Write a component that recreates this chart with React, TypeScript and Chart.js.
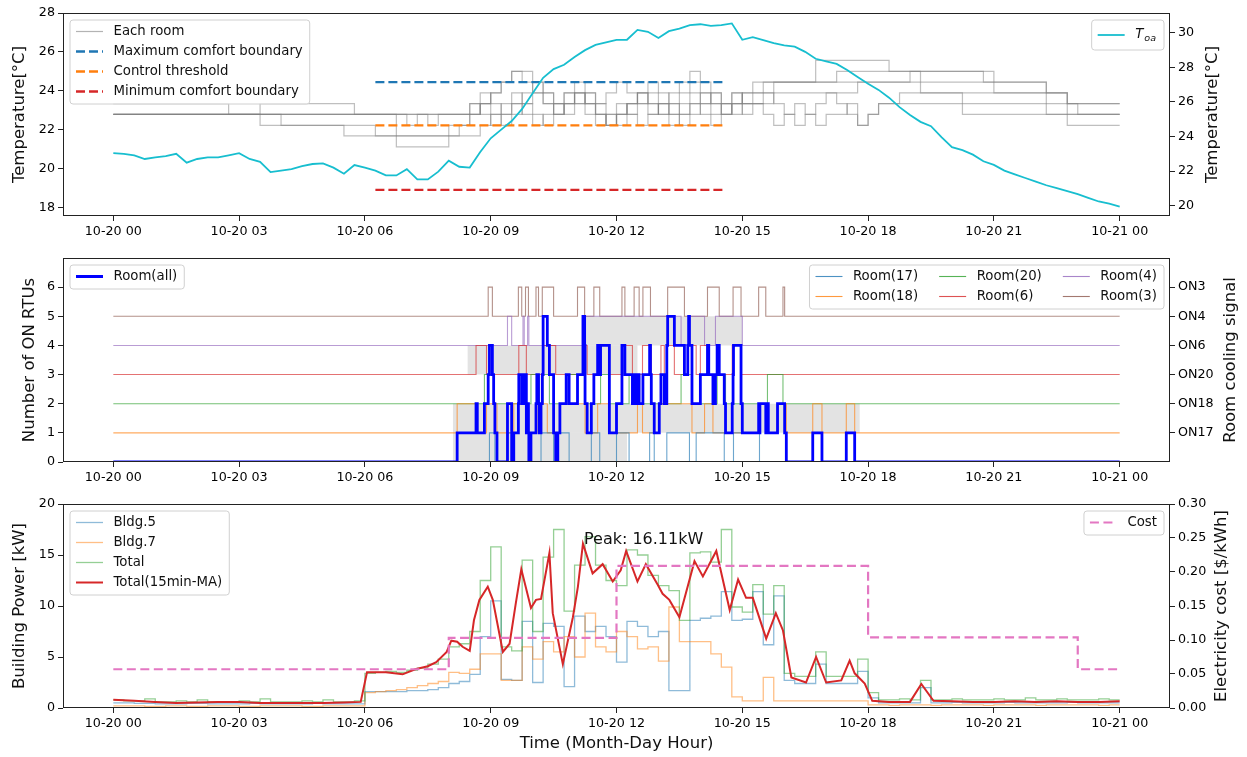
import React, { useEffect, useRef } from "react";
import { Chart, registerables } from "chart.js";

Chart.register(...registerables);

const FONT = '"DejaVu Sans", "Liberation Sans", sans-serif';
Chart.defaults.font.family = FONT;

// ---------------- shared time axis ----------------
const xTickHours = [0, 3, 6, 9, 12, 15, 18, 21, 24];
const xTickLabels = ["10-20 00", "10-20 03", "10-20 06", "10-20 09", "10-20 12", "10-20 15", "10-20 18", "10-20 21", "10-21 00"];
const xMin = -1.2;
const xMax = 25.2;
const sampleStepHours = 0.25;

// ---------------- panel 1: temperatures ----------------
const tempTicks = [18, 20, 22, 24, 26, 28];
const toaTicks = [20, 22, 24, 26, 28, 30];

const toa = [
  23.04, 23.0, 22.91, 22.7, 22.79, 22.87, 23.0, 22.49, 22.7, 22.79,
  22.79, 22.91, 23.04, 22.7, 22.53, 21.94, 22.03, 22.11, 22.28, 22.41,
  22.45, 22.2, 21.85, 22.35, 22.2, 22.03, 21.75, 21.75, 22.11, 21.52,
  21.52, 21.97, 22.6, 22.25, 22.2, 23.1, 23.9, 24.4, 24.9, 25.6,
  26.5, 27.4, 27.9, 28.15, 28.6, 29.0, 29.3, 29.45, 29.6, 29.6,
  30.17, 30.06, 29.7, 30.1, 30.25, 30.45, 30.5, 30.4, 30.45, 30.55,
  29.6, 29.75, 29.58, 29.4, 29.28, 29.2, 28.9, 28.5, 28.35, 28.2,
  27.85, 27.45, 27.05, 26.7, 26.25, 25.7, 25.25, 24.85, 24.6, 23.97,
  23.38, 23.21, 22.95, 22.57, 22.36, 22.03, 21.81, 21.6, 21.39, 21.18,
  21.01, 20.84, 20.66, 20.45, 20.24, 20.11, 19.94,
];

const roomTempA = [
  22.78, 22.78, 22.78, 22.78, 22.78, 22.78, 22.78, 22.78, 22.78, 22.78, 22.78,
  22.78, 22.78, 22.78, 22.78, 22.78, 22.78, 22.78, 22.78, 22.78, 22.78, 22.78,
  22.78, 22.78, 22.78, 22.78, 22.78, 22.78, 22.78, 22.78, 22.78, 22.78, 22.78,
  22.78, 23.33, 23.89, 23.33, 22.78, 23.33, 23.89, 24.44, 23.89, 23.33, 22.78, 23.33, 23.89, 23.33,
  22.78, 22.22, 22.78, 23.33, 23.89, 23.33, 22.78, 23.33, 23.89, 23.33, 22.78, 23.33, 23.89, 23.33,
  23.33, 23.33, 23.89, 23.89, 23.89, 23.89, 23.89, 23.89, 23.89, 23.89,
  24.44, 24.44, 24.44, 24.44, 24.44, 24.44,
  23.89, 23.89, 23.89, 23.89, 23.89, 23.89, 23.89, 23.89, 23.89, 23.89, 23.89, 23.89, 23.89, 23.89,
  23.33, 23.33, 23.33, 23.33, 23.33, 23.33,
];
const roomTempB = [
  23.33, 23.33, 23.33, 23.33, 23.33, 23.33, 23.33, 23.33, 23.33, 23.33, 23.33,
  22.78, 22.78, 22.78,
  23.33, 23.33, 23.33, 23.33, 23.33, 23.33, 23.33, 23.33, 23.33,
  22.78, 22.78, 22.78, 22.78, 22.78, 22.78, 22.78, 22.78, 22.78, 22.78, 22.78, 22.78,
  23.33, 23.89, 24.44, 25.0, 25.0, 24.44, 23.89, 23.33, 23.89, 24.44, 23.89, 23.33,
  23.89, 24.44, 23.89, 23.33, 22.78, 23.33, 23.89, 24.44, 25.0, 24.44, 23.89, 23.33,
  23.89, 23.33,
  23.89, 24.44, 24.44, 24.44, 24.44, 24.44, 24.44, 24.44,
  25.0, 25.0, 25.0, 25.0, 25.0, 25.0, 25.0, 25.0, 25.0, 25.0, 25.0, 25.0, 25.0, 25.0, 25.0,
  24.44, 24.44, 24.44, 24.44, 24.44, 23.89, 23.89,
  23.33, 23.33, 23.33, 23.33, 23.33, 23.33,
];
const roomTempC = [
  22.78, 22.78, 22.78, 22.78, 22.78, 22.78, 22.78, 22.78, 22.78, 22.78, 22.78, 22.78, 22.78, 22.78,
  22.22, 22.22, 22.22, 22.22, 22.22, 22.22, 22.22, 22.22, 22.22, 22.22, 22.22,
  21.67, 21.67, 21.67, 21.67, 21.67, 21.67, 21.67, 21.67, 21.67, 21.67,
  22.22, 22.78, 23.33, 23.89, 23.33, 22.78, 22.22, 22.78, 23.33, 23.89, 23.33, 22.78, 22.22,
  22.78, 23.33, 23.89, 23.33, 22.78, 22.22, 22.78, 23.33, 22.78, 22.22, 22.78, 23.33, 22.78,
  23.33, 23.89, 23.33, 22.78, 22.22, 22.78, 23.33, 23.89, 23.33, 22.78, 22.22, 22.78, 23.33, 23.33, 23.89, 23.89,
  23.89, 23.89, 23.89, 23.89,
  23.33, 23.33, 23.33, 23.33, 23.33, 23.33, 23.33, 23.33,
  22.78, 22.78, 22.78, 22.78, 22.78, 22.78, 22.78, 22.78,
];
const roomTempD = [
  22.78, 22.78, 22.78, 22.78, 22.78, 22.78, 22.78, 22.78, 22.78, 22.78, 22.78, 22.78, 22.78, 22.78, 22.78, 22.78,
  22.22, 22.22, 22.22, 22.22, 22.22, 22.22,
  21.67, 21.67, 21.67, 21.67, 21.67, 21.67, 21.67, 21.67, 21.67, 21.67, 21.67,
  22.22, 22.78, 23.33, 22.78, 22.22, 22.78, 23.33, 23.89, 23.33, 22.78, 23.33, 23.89, 23.33, 22.78,
  22.22, 22.78, 23.33, 23.89, 24.44, 23.89, 23.33, 22.78, 23.33, 23.89, 23.33, 22.78, 23.33, 23.89,
  24.44, 24.44, 24.44, 24.44, 24.44, 24.44,
  25.56, 25.56, 25.56, 25.56, 25.56, 25.56, 25.56,
  25.0, 25.0, 25.0,
  24.44, 24.44, 24.44, 24.44, 24.44, 24.44, 24.44,
  23.89, 23.89, 23.89, 23.89, 23.89, 23.89, 23.89,
  23.33,
  22.78, 22.78, 22.78, 22.78, 22.78,
];
const roomTempE = [
  22.78, 22.78, 22.78, 22.78, 22.78, 22.78, 22.78, 22.78, 22.78, 22.78, 22.78, 22.78, 22.78, 22.78,
  22.78, 22.78, 22.78, 22.78, 22.78, 22.78, 22.78, 22.78, 22.78, 22.78, 22.78, 22.78, 22.78,
  21.11, 21.11, 21.11, 21.11, 21.11,
  22.22, 22.22,
  22.78, 23.33, 23.89, 24.44, 25.0, 24.44, 23.89, 23.33, 22.78, 23.33, 23.89, 23.33, 22.78, 22.22,
  22.78, 23.33, 23.89, 23.33, 22.78, 23.33, 23.89, 24.44, 23.89, 23.33, 22.78, 23.33, 23.89,
  23.89, 23.89,
  24.44, 24.44, 24.44, 24.44, 24.44, 24.44, 24.44, 24.44, 24.44, 24.44, 24.44, 24.44, 24.44,
  25.0, 25.0, 25.0, 25.0, 25.0, 25.0, 25.0,
  24.44, 24.44, 24.44, 24.44, 24.44, 24.44,
  23.33, 23.33,
  22.22, 22.22, 22.22, 22.22, 22.22, 22.22,
];
const roomTempF = [
  22.78, 22.78, 22.78, 22.78, 22.78, 22.78, 22.78, 22.78, 22.78, 22.78, 22.78, 22.78, 22.78, 22.78,
  22.78, 22.78, 22.78, 22.78, 22.78, 22.78, 22.78, 22.78, 22.78, 22.78, 22.78, 22.78, 22.78, 22.78,
  22.22, 22.78, 22.22, 22.78, 22.78, 22.78,
  23.33, 22.78, 22.22, 22.78, 23.33, 22.78, 22.22, 22.78, 23.33, 23.89, 23.33, 22.78, 22.22, 22.78,
  23.33, 22.78, 22.22, 22.78, 23.33, 22.78, 22.22, 22.78, 23.33, 23.89, 23.33, 22.78, 23.33,
  23.33, 22.78, 22.22, 22.78, 23.33, 22.78, 22.22, 22.78, 22.78, 23.33, 22.22, 22.78, 23.33,
  23.33, 23.33, 23.33, 23.33, 23.33, 23.33, 23.33,
  22.78, 22.78, 22.78, 22.78, 22.78, 22.78, 22.78, 22.78, 22.78, 22.78, 22.78, 22.78, 22.78, 22.78, 22.78, 22.78,
];
const roomTemps = [roomTempA, roomTempB, roomTempC, roomTempD, roomTempE, roomTempF];

const boundaryHours = [6.25, 14.58];
const comfortMax = 24.44;
const controlThreshold = 22.22;
const comfortMin = 18.89;

// ---------------- panel 2: cooling signals ----------------
const rtuTicks = [0, 1, 2, 3, 4, 5, 6];
const signalTicks = [1, 2, 3, 4, 5, 6];
const signalLabels = ["ON17", "ON18", "ON20", "ON6", "ON4", "ON3"];
const roomNames = ["Room(17)", "Room(18)", "Room(20)", "Room(6)", "Room(4)", "Room(3)"];
const roomColors = ["#1f77b4", "#ff7f0e", "#2ca02c", "#d62728", "#9467bd", "#8c564b"];
const roomBaselines = [0, 1, 2, 3, 4, 5];

const room17On = [[8.97, 9.1], [9.4, 9.5], [10.2, 10.5], [10.6, 10.87], [11.4, 11.6], [12.0, 12.3], [12.79, 12.9], [13.2, 13.74], [13.9, 14.57], [14.79, 15.41]];
const room18On = [[8.2, 8.68], [8.9, 9.15], [9.55, 9.85], [10.1, 10.35], [10.65, 11.25], [11.55, 11.83], [12.5, 12.62], [13.02, 13.8], [14.1, 14.3], [15.42, 15.62], [15.84, 16.05], [16.68, 16.9], [17.48, 17.68]];
const room20On = [[8.85, 9.07], [9.96, 10.16], [10.25, 10.4], [10.8, 11.25], [11.62, 11.83], [12.3, 12.45], [13.54, 13.8], [14.4, 14.6], [15.6, 15.97]];
const room6On = [[8.65, 8.9], [9.67, 9.85], [10.25, 10.55], [11.2, 11.3], [11.6, 11.83], [12.13, 12.38], [12.62, 12.83], [13.06, 13.14], [13.2, 13.38], [13.7, 13.9], [14.0, 14.2], [14.76, 14.97]];
const room4On = [[9.4, 9.5], [9.77, 9.8], [9.88, 9.91], [11.2, 13.54], [13.72, 14.1], [14.36, 15.0]];
const room3On = [[8.94, 9.04], [9.66, 9.74], [9.83, 9.9], [10.08, 10.14], [10.23, 10.5], [11.07, 11.24], [11.46, 11.6], [12.13, 12.2], [12.42, 12.54], [12.63, 12.81], [13.22, 13.62], [14.17, 14.45], [14.78, 14.97], [15.39, 15.56], [15.97, 16.01]];
const roomOnLists = [room17On, room18On, room20On, room6On, room4On, room3On];

const room17Demand = [[8.1, 12.25]];
const room18Demand = [[8.1, 17.8]];
const room20Demand: number[][] = [];
const room6Demand = [[8.45, 12.5]];
const room4Demand = [[11.2, 15.0]];
const room3Demand: number[][] = [];
const roomDemandLists = [room17Demand, room18Demand, room20Demand, room6Demand, room4Demand, room3Demand];

// ---------------- panel 3: power & cost ----------------
const powerTicks = [0, 5, 10, 15, 20];
const costTicks = [0, 0.05, 0.1, 0.15, 0.2, 0.25, 0.3];

const bldg5 = [
  0.5, 0.5, 0.45, 0.45, 0.4, 0.4, 0.4, 0.45, 0.45, 0.4, 0.4, 0.4, 0.4, 0.45, 0.4, 0.4, 0.4, 0.4, 0.4, 0.45, 0.4, 0.4, 0.4, 0.4,
  1.6, 1.6, 1.6, 1.6, 1.7, 1.7, 1.8, 2.0,
  2.4, 2.6, 3.3, 7.0, 10.5, 2.8, 2.7, 8.5,
  2.5, 8.3, 8.0, 2.1, 9.0, 7.5, 8.0, 7.0,
  4.5, 8.5, 8.0, 7.0, 7.5, 1.7, 1.7, 8.6,
  8.8, 9.0, 11.4, 8.6, 8.7, 11.4, 6.2, 11.0,
  2.7, 2.4, 2.4, 4.3, 2.4, 2.4, 2.4, 3.6,
  1.0, 0.5, 0.5, 0.5, 0.5, 2.0, 0.5, 0.5, 0.55, 0.5, 0.5, 0.5, 0.5, 0.55, 0.5, 0.5, 0.5, 0.5, 0.5, 0.55, 0.5, 0.5, 0.5, 0.5, 0.5,
];
const bldg7 = [
  0.2, 0.2, 0.2, 0.15, 0.15, 0.2, 0.2, 0.15, 0.15, 0.2, 0.2, 0.2, 0.15, 0.15, 0.2, 0.2, 0.2, 0.2, 0.15, 0.15, 0.2, 0.2, 0.2, 0.2,
  1.5, 1.6, 1.7, 1.8, 2.0, 2.2, 2.4, 2.6,
  3.5, 3.4, 3.8, 5.3, 5.3, 2.7, 2.7, 6.0,
  4.8, 6.5, 5.5, 7.0, 5.0, 9.3, 6.0, 5.5,
  7.5, 7.0, 5.8, 6.0, 4.6, 9.9, 6.5, 6.5,
  6.5, 5.3, 4.0, 1.1, 0.7, 0.7, 3.0, 0.7,
  0.7, 0.7, 0.7, 0.7, 0.7, 0.7, 0.7, 0.7,
  0.3, 0.3, 0.25, 0.3, 0.3, 0.3, 0.25, 0.3, 0.3, 0.3, 0.3, 0.25, 0.3, 0.3, 0.3, 0.3, 0.25, 0.3, 0.3, 0.3, 0.3, 0.3, 0.25, 0.3, 0.3,
];
const totalPower = [
  0.8, 0.7, 0.7, 0.9, 0.6, 0.6, 0.7, 0.6, 0.8, 0.6, 0.6, 0.6, 0.7, 0.6, 0.9, 0.6, 0.6, 0.6, 0.7, 0.6, 0.8, 0.6, 0.6, 0.7,
  3.4, 3.5, 3.6, 3.5, 3.7, 3.9, 4.3, 4.8,
  6.0, 6.3, 7.5, 12.5, 15.8, 6.0, 5.6, 14.5,
  7.5, 14.8, 17.5, 9.5, 14.0, 16.8, 14.0, 12.5,
  12.0, 15.5, 15.0, 13.0, 12.0, 11.5, 8.6, 15.2,
  15.3, 14.3, 17.5, 9.9, 9.4, 12.1, 9.2, 12.0,
  3.4, 3.1, 3.1, 5.5, 3.1, 3.1, 3.1, 4.8,
  1.5, 0.8, 0.8, 0.9, 0.8, 2.7, 0.8, 0.8, 0.9, 0.8, 0.8, 0.8, 0.9, 0.8, 0.8, 1.0, 0.8, 0.8, 0.9, 0.8, 0.8, 0.8, 0.9, 0.8, 0.8,
];

const maHours = [
  0, 0.5, 1, 1.5, 2, 2.5, 3, 3.5, 4, 4.5, 5, 5.5, 5.9, 6.05, 6.5, 6.9, 7.2, 7.5, 7.7, 7.95,
  8.06, 8.2, 8.33, 8.5, 8.6, 8.73, 8.93, 9.05, 9.29, 9.45, 9.6, 9.73, 9.96, 10.08, 10.2, 10.4, 10.48, 10.72, 10.96, 11.08,
  11.2, 11.43, 11.67, 11.91, 12.1, 12.23, 12.5, 12.7, 12.98, 13.1, 13.26, 13.5, 13.86, 14.06, 14.38, 14.7, 14.9, 15.09, 15.25, 15.57,
  15.8, 15.97, 16.17, 16.52, 16.76, 17.0, 17.36, 17.56, 17.68, 17.92, 18.1, 18.5, 19.0, 19.27, 19.56, 20, 20.5, 21, 21.5, 22,
  22.5, 23, 23.5, 24,
];
const maValues = [
  0.8, 0.7, 0.6, 0.5, 0.55, 0.6, 0.6, 0.5, 0.5, 0.5, 0.5, 0.55, 0.6, 3.5, 3.5, 3.3, 3.8, 4.1, 4.5, 5.5,
  6.6, 6.5, 6.0, 5.6, 8.6, 10.6, 11.9, 10.6, 5.5, 6.3, 10.3, 13.6, 9.8, 10.6, 10.7, 15.2, 9.3, 4.3, 8.9, 11.9,
  16.11, 13.2, 14.1, 12.4, 13.5, 15.4, 12.4, 14.1, 12.1, 11.2, 10.6, 8.9, 14.4, 12.9, 15.4, 9.6, 12.6, 10.8, 10.8, 6.8,
  9.3, 7.6, 3.0, 2.5, 5.0, 2.5, 2.7, 4.65, 3.4, 2.4, 0.7, 0.6, 0.6, 2.35, 0.7, 0.65, 0.6, 0.6, 0.65, 0.6,
  0.65, 0.6, 0.6, 0.65,
];
const peakHour = 11.2;
const peakKw = 16.11;

const costHours = [0, 8, 12, 18, 23, 24];
const costValues = [0.057, 0.103, 0.209, 0.104, 0.057, 0.057];

// ---------------- helpers ----------------
const sampleHours = toa.map((_, i) => i * sampleStepHours);
const toPts = (xs: number[], ys: number[]) => ys.map((y, i) => ({ x: xs[i], y }));

function stepFromIntervals(base: number, intervals: number[][]) {
  const pts = [{ x: 0, y: base }];
  for (const [s, e] of intervals) {
    pts.push({ x: s, y: base + 1 });
    pts.push({ x: e, y: base });
  }
  pts.push({ x: 24, y: base });
  return pts;
}

function roomAllPoints() {
  const times = new Set<number>([0, 24]);
  roomOnLists.forEach((l) => l.forEach(([s, e]) => { times.add(s); times.add(e); }));
  const sorted = Array.from(times).sort((a, b) => a - b);
  return sorted.map((t) => ({
    x: t,
    y: roomOnLists.reduce((n, l) => n + (l.some(([s, e]) => t >= s && t < e) ? 1 : 0), 0),
  }));
}

function rgba(hex: string, a: number) {
  const n = parseInt(hex.slice(1), 16);
  return `rgba(${(n >> 16) & 255},${(n >> 8) & 255},${n & 255},${a})`;
}

const TICK_FONT = { family: FONT, size: 12.7 };

function xScale(height: number) {
  return {
    type: "linear",
    min: xMin,
    max: xMax,
    afterBuildTicks: (s: any) => { s.ticks = xTickHours.map((v) => ({ value: v })); },
    afterFit: (s: any) => { s.height = height; },
    ticks: {
      autoSkip: false, maxRotation: 0, minRotation: 0, padding: 3, color: "#000", font: TICK_FONT,
      callback: (_v: any, i: number) => xTickLabels[i],
    },
    grid: { drawOnChartArea: false, drawTicks: true, tickLength: 5, color: "#222", lineWidth: 1 },
    border: { display: false },
  };
}

function yScale(position: string, min: number, max: number, ticks: number[], width: number, fmt: (v: number, i: number) => string) {
  return {
    type: "linear",
    position,
    min,
    max,
    afterBuildTicks: (s: any) => { s.ticks = ticks.map((v) => ({ value: v })); },
    afterFit: (s: any) => { s.width = width; },
    ticks: { autoSkip: false, padding: 3, color: "#000", font: TICK_FONT, callback: (v: any, i: number) => fmt(v, i) },
    grid: { drawOnChartArea: false, drawTicks: true, tickLength: 5, color: "#222", lineWidth: 1 },
    border: { display: false },
  };
}

type LegendItem = { label: string; color: string; width: number; dash?: number[]; special?: string };
type LegendBox = { corner: "left" | "right"; items: LegendItem[]; columns?: number; height?: number; firstRow?: number };

function itemTextWidth(ctx: any, it: LegendItem, fs: number) {
  if (it.special === "toa") {
    ctx.save();
    ctx.font = `italic ${fs}px ${FONT}`;
    const w1 = ctx.measureText("T").width;
    ctx.font = `italic ${fs * 0.72}px ${FONT}`;
    const w2 = ctx.measureText("oa").width;
    ctx.restore();
    return w1 + w2 + 2;
  }
  return ctx.measureText(it.label).width;
}

function drawLegend(ctx: any, area: any, box: LegendBox) {
  const fs = 13.3;
  ctx.save();
  ctx.font = `${fs}px ${FONT}`;
  const cols = box.columns || 1;
  const rows = Math.ceil(box.items.length / cols);
  const handle = 27, hpad = 10.5, padL = 6, padR = 7, colGap = 21, rowH = 20;
  const colW: number[] = [];
  for (let c = 0; c < cols; c++) {
    let mw = 0;
    for (let r = 0; r < rows; r++) {
      const it = box.items[c * rows + r];
      if (it) mw = Math.max(mw, itemTextWidth(ctx, it, fs));
    }
    colW.push(handle + hpad + mw);
  }
  const w = padL + colW.reduce((a, b) => a + b, 0) + colGap * (cols - 1) + padR;
  const h = box.height ?? 11.5 + rowH * (rows - 1) + 12.5;
  const x0 = box.corner === "left" ? area.left + 7 : area.right - 6 - w;
  const y0 = area.top + 7;
  const rad = 3;
  ctx.beginPath();
  ctx.moveTo(x0 + rad, y0);
  ctx.lineTo(x0 + w - rad, y0);
  ctx.quadraticCurveTo(x0 + w, y0, x0 + w, y0 + rad);
  ctx.lineTo(x0 + w, y0 + h - rad);
  ctx.quadraticCurveTo(x0 + w, y0 + h, x0 + w - rad, y0 + h);
  ctx.lineTo(x0 + rad, y0 + h);
  ctx.quadraticCurveTo(x0, y0 + h, x0, y0 + h - rad);
  ctx.lineTo(x0, y0 + rad);
  ctx.quadraticCurveTo(x0, y0, x0 + rad, y0);
  ctx.closePath();
  ctx.fillStyle = "rgba(255,255,255,0.8)";
  ctx.fill();
  ctx.strokeStyle = "#d0d0d0";
  ctx.lineWidth = 1;
  ctx.setLineDash([]);
  ctx.stroke();

  let cx = x0 + padL;
  for (let c = 0; c < cols; c++) {
    for (let r = 0; r < rows; r++) {
      const it = box.items[c * rows + r];
      if (!it) continue;
      const yc = y0 + (box.firstRow ?? 11.5) + rowH * r;
      ctx.beginPath();
      ctx.setLineDash(it.dash || []);
      ctx.strokeStyle = it.color;
      ctx.lineWidth = it.width;
      ctx.moveTo(cx, yc);
      ctx.lineTo(cx + handle, yc);
      ctx.stroke();
      ctx.setLineDash([]);
      ctx.fillStyle = "#111";
      ctx.textBaseline = "middle";
      ctx.textAlign = "left";
      const tx = cx + handle + hpad;
      if (it.special === "toa") {
        ctx.font = `italic ${fs}px ${FONT}`;
        ctx.fillText("T", tx, yc);
        const tw = ctx.measureText("T").width;
        ctx.font = `italic ${fs * 0.72}px ${FONT}`;
        ctx.fillText("oa", tx + tw + 1, yc + 4);
        ctx.font = `${fs}px ${FONT}`;
      } else {
        ctx.fillText(it.label, tx, yc);
      }
    }
    cx += colW[c] + colGap;
  }
  ctx.restore();
}

type DecorCfg = {
  leftTitle: string; leftTitleX: number; rightTitle: string; rightTitleX: number;
  bottomTitle?: { text: string; y: number };
  legends: LegendBox[];
  peak?: boolean;
};

function makeDecor(cfg: DecorCfg) {
  return {
    id: "decor",
    afterDraw(chart: any) {
      const { ctx, chartArea: a } = chart;
      ctx.save();
      ctx.strokeStyle = "#222";
      ctx.lineWidth = 1;
      ctx.setLineDash([]);
      const l = Math.round(a.left) + 0.5, t = Math.round(a.top) + 0.5;
      const r = Math.round(a.right) - 0.5, b = Math.round(a.bottom) - 0.5;
      ctx.strokeRect(l, t, r - l, b - t);

      if (cfg.peak) {
        const px = chart.scales.x.getPixelForValue(peakHour);
        const py = chart.scales.y.getPixelForValue(peakKw);
        ctx.font = `16px ${FONT}`;
        ctx.fillStyle = "#111";
        ctx.textAlign = "left";
        ctx.textBaseline = "alphabetic";
        ctx.fillText(`Peak: ${peakKw.toFixed(2)}kW`, px + 1, py);
      }

      for (const lg of cfg.legends) drawLegend(ctx, a, lg);

      ctx.font = `16.5px ${FONT}`;
      ctx.fillStyle = "#111";
      ctx.textAlign = "center";
      ctx.textBaseline = "middle";
      const cy = (a.top + a.bottom) / 2;
      const vt = (text: string, x: number) => {
        ctx.save();
        ctx.translate(x, cy);
        ctx.rotate(-Math.PI / 2);
        ctx.fillText(text, 0, 0);
        ctx.restore();
      };
      vt(cfg.leftTitle, cfg.leftTitleX);
      vt(cfg.rightTitle, cfg.rightTitleX);
      if (cfg.bottomTitle) {
        ctx.fillText(cfg.bottomTitle.text, (a.left + a.right) / 2, cfg.bottomTitle.y);
      }
      ctx.restore();
    },
  };
}

const LEFT_W = 63;
const RIGHT_W = 77;

function baseOptions(padTop: number, scales: any) {
  return {
    responsive: false,
    animation: false,
    devicePixelRatio: 1,
    layout: { padding: { top: padTop, left: 0, right: 0, bottom: 0 } },
    plugins: { legend: { display: false }, tooltip: { enabled: false } },
    elements: { point: { radius: 0 }, line: { tension: 0 } },
    scales,
  };
}

// ---------------- panel configs ----------------
function tempConfig() {
  const grayRoom = "rgba(128,128,128,0.5)";
  const datasets: any[] = [
    { data: toPts(sampleHours, toa), yAxisID: "y2", borderColor: "#17becf", borderWidth: 1.8, pointRadius: 0, order: 0 },
    { data: toPts(boundaryHours, [comfortMax, comfortMax]), yAxisID: "y", borderColor: "#1f77b4", borderWidth: 2.3, borderDash: [9, 4], pointRadius: 0, order: 1 },
    { data: toPts(boundaryHours, [controlThreshold, controlThreshold]), yAxisID: "y", borderColor: "#ff7f0e", borderWidth: 2.3, borderDash: [9, 4], pointRadius: 0, order: 1 },
    { data: toPts(boundaryHours, [comfortMin, comfortMin]), yAxisID: "y", borderColor: "#d62728", borderWidth: 2.3, borderDash: [9, 4], pointRadius: 0, order: 1 },
    ...roomTemps.map((rt) => ({ data: toPts(sampleHours, rt), yAxisID: "y", borderColor: grayRoom, borderWidth: 1.2, pointRadius: 0, stepped: true, order: 2 })),
  ];
  return {
    type: "line",
    data: { datasets },
    options: baseOptions(13, {
      x: xScale(29),
      y: yScale("left", 17.55, 28, tempTicks, LEFT_W, (v) => String(v)),
      y2: yScale("right", 19.4, 31.15, toaTicks, RIGHT_W, (v) => String(v)),
    }),
    plugins: [makeDecor({
      leftTitle: "Temperature[°C]", leftTitleX: 20, rightTitle: "Temperature[°C]", rightTitleX: 1213,
      legends: [
        { corner: "left", items: [
          { label: "Each room", color: "rgba(128,128,128,0.6)", width: 1.2 },
          { label: "Maximum comfort boundary", color: "#1f77b4", width: 2.3, dash: [9, 4] },
          { label: "Control threshold", color: "#ff7f0e", width: 2.3, dash: [9, 4] },
          { label: "Minimum comfort boundary", color: "#d62728", width: 2.3, dash: [9, 4] },
        ] },
        { corner: "right", height: 30, firstRow: 15, items: [{ label: "Toa", color: "#17becf", width: 1.8, special: "toa" }] },
      ],
    })],
  };
}

function signalConfig() {
  const fills = roomBaselines.map((b, k) => ({
    data: stepFromIntervals(b, roomDemandLists[k]), yAxisID: "y", borderWidth: 0, borderColor: "rgba(0,0,0,0)",
    backgroundColor: "rgba(128,128,128,0.22)", fill: { value: b }, stepped: true, pointRadius: 0, order: 3,
  }));
  const lines = roomBaselines.map((b, k) => ({
    data: stepFromIntervals(b, roomOnLists[k]), yAxisID: "y", borderColor: rgba(roomColors[k], 0.65), borderWidth: 1.1,
    stepped: true, pointRadius: 0, fill: false, order: 2,
  }));
  const all = { data: roomAllPoints(), yAxisID: "y", borderColor: "#0000ff", borderWidth: 2.8, stepped: true, pointRadius: 0, fill: false, order: 0 };
  return {
    type: "line",
    data: { datasets: [all, ...lines, ...fills] },
    options: baseOptions(13, {
      x: xScale(28),
      y: yScale("left", 0, 7, rtuTicks, LEFT_W, (v) => String(v)),
      y2: yScale("right", 0, 7, signalTicks, RIGHT_W, (_v, i) => signalLabels[i]),
    }),
    plugins: [makeDecor({
      leftTitle: "Number of ON RTUs", leftTitleX: 30, rightTitle: "Room cooling signal", rightTitleX: 1231,
      legends: [
        { corner: "left", items: [{ label: "Room(all)", color: "#0000ff", width: 3 }] },
        { corner: "right", columns: 3, items: roomNames.map((n, k) => ({ label: n, color: rgba(roomColors[k], 0.8), width: 1.1 })) },
      ],
    })],
  };
}

function powerConfig() {
  const datasets: any[] = [
    { data: toPts(costHours, costValues), yAxisID: "y2", borderColor: "#e377c2", borderWidth: 2.2, borderDash: [9, 4.5], stepped: true, pointRadius: 0, order: 0 },
    { data: toPts(maHours, maValues), yAxisID: "y", borderColor: "#d62728", borderWidth: 2, pointRadius: 0, order: 1 },
    { data: toPts(sampleHours, totalPower), yAxisID: "y", borderColor: rgba("#2ca02c", 0.5), borderWidth: 1.3, stepped: true, pointRadius: 0, order: 2 },
    { data: toPts(sampleHours, bldg7), yAxisID: "y", borderColor: rgba("#ff7f0e", 0.5), borderWidth: 1.3, stepped: true, pointRadius: 0, order: 3 },
    { data: toPts(sampleHours, bldg5), yAxisID: "y", borderColor: rgba("#1f77b4", 0.5), borderWidth: 1.3, stepped: true, pointRadius: 0, order: 4 },
  ];
  return {
    type: "line",
    data: { datasets },
    options: baseOptions(14, {
      x: xScale(49),
      y: yScale("left", 0, 20, powerTicks, LEFT_W, (v) => String(v)),
      y2: yScale("right", 0, 0.3, costTicks, RIGHT_W, (v) => Number(v).toFixed(2)),
    }),
    plugins: [makeDecor({
      leftTitle: "Building Power [kW]", leftTitleX: 20, rightTitle: "Electricity cost [$/kWh]", rightTitleX: 1222,
      bottomTitle: { text: "Time (Month-Day Hour)", y: 254 },
      peak: true,
      legends: [
        { corner: "left", items: [
          { label: "Bldg.5", color: rgba("#1f77b4", 0.5), width: 1.3 },
          { label: "Bldg.7", color: rgba("#ff7f0e", 0.5), width: 1.3 },
          { label: "Total", color: rgba("#2ca02c", 0.5), width: 1.3 },
          { label: "Total(15min-MA)", color: "#d62728", width: 2 },
        ] },
        { corner: "right", items: [{ label: "Cost", color: "#e377c2", width: 2.2, dash: [9, 4.5] }] },
      ],
    })],
  };
}

function ChartPanel({ make, top, height }: { make: () => any; top: number; height: number }) {
  const ref = useRef<HTMLCanvasElement | null>(null);
  useEffect(() => {
    if (!ref.current) return;
    const chart = new Chart(ref.current, make());
    return () => chart.destroy();
  }, [make]);
  return (
    <canvas
      ref={ref}
      width={1247}
      height={height}
      style={{ position: "absolute", left: 0, top, width: 1247, height, display: "block" }}
    />
  );
}

export default function App() {
  return (
    <div style={{ position: "fixed", left: 0, top: 0, width: 1247, height: 757, background: "#fff", overflow: "hidden" }}>
      <ChartPanel make={tempConfig} top={0} height={245} />
      <ChartPanel make={signalConfig} top={245} height={245} />
      <ChartPanel make={powerConfig} top={490} height={267} />
    </div>
  );
}
